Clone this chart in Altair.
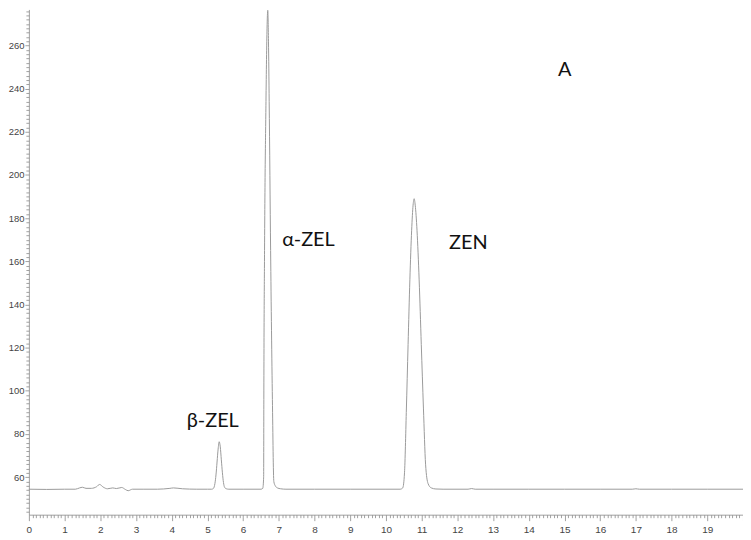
import altair as alt
import pandas as pd

# Chromatogram trace (retention time in min, detector signal)
time_min = [
    0.0, 0.5, 1.0, 1.3, 1.42, 1.5, 1.6, 1.75, 1.9, 1.98, 2.08, 2.2, 2.35, 2.45, 2.6, 2.7, 2.78, 2.9,
    3.2, 3.6, 3.95, 4.05, 4.3, 4.7, 5.0,
    5.12, 5.17, 5.21, 5.24, 5.27, 5.30, 5.33, 5.36, 5.39, 5.42, 5.45, 5.48, 5.53, 5.6,
    6.0, 6.50, 6.55, 6.575, 6.58, 6.60, 6.64, 6.67, 6.69, 6.71, 6.73, 6.77, 6.82, 6.86, 6.90, 6.96, 7.05, 7.2,
    8.0, 9.0, 10.0, 10.40, 10.47, 10.52, 10.57, 10.62, 10.67, 10.72, 10.76, 10.79, 10.82, 10.87, 10.93,
    10.99, 11.05, 11.11, 11.18, 11.27, 11.40, 11.6, 12.3, 12.4, 12.5, 13.0, 14.0, 15.0, 16.0, 16.9,
    17.0, 17.1, 18.0, 19.0, 20.0,
]
signal = [
    54.4, 54.3, 54.4, 54.4, 55.0, 55.3, 54.8, 54.8, 55.6, 56.6, 55.4, 54.6, 55.0, 54.7, 55.2, 54.3, 53.7, 54.4,
    54.4, 54.4, 54.8, 55.0, 54.6, 54.4, 54.4,
    54.4, 54.8, 57.0, 61.0, 67.0, 73.0, 76.4, 74.0, 68.0, 62.0, 57.5, 55.3, 54.6, 54.4,
    54.4, 54.4, 54.8, 60.0, 96.0, 165.0, 234.0, 268.0, 276.3, 262.0, 234.0, 165.0, 96.0, 58.0, 56.0, 55.0, 54.6, 54.4,
    54.4, 54.4, 54.4, 54.4, 55.0, 62.0, 90.0, 121.4, 151.4, 174.4, 186.0, 189.0, 186.0, 174.4, 151.4,
    121.4, 92.0, 66.0, 57.0, 55.0, 54.5, 54.4, 54.4, 54.7, 54.4, 54.4, 54.4, 54.4, 54.4, 54.4,
    54.6, 54.4, 54.4, 54.4, 54.4,
]

label_text = ["β-ZEL", "α-ZEL", "ZEN", "A"]
label_time = [5.15, 7.83, 12.31, 15.01]
label_signal = [86.0, 169.8, 168.4, 248.7]

x_ticks = [round(i * 0.1, 1) for i in range(0, 201)]
y_ticks = list(range(44, 277, 2))

trace = pd.DataFrame({"time": time_min, "signal": signal})
labels = pd.DataFrame({"text": label_text, "time": label_time, "signal": label_signal})

x_scale = alt.Scale(domain=[0, 20], nice=False, zero=False)
y_scale = alt.Scale(domain=[42.6, 276.7], nice=False, zero=False)

x_axis = alt.Axis(
    values=x_ticks,
    title=None,
    grid=False,
    labelExpr="abs(datum.value - round(datum.value)) < 0.01 && datum.value < 19.5 ? format(datum.value, 'd') : ''",
    tickSize={"condition": {"test": "abs(datum.value - round(datum.value)) < 0.01", "value": 6}, "value": 3},
    tickColor="#8a8a8a",
    tickWidth=0.8,
    domainColor="#8a8a8a",
    domainWidth=0.8,
    labelFont="Liberation Sans",
    labelFontSize=10,
    labelColor="#444444",
    labelPadding=4,
    labelOverlap=False,
    labelFlush=False,
)
y_axis = alt.Axis(
    values=y_ticks,
    title=None,
    grid=False,
    labelExpr="datum.value % 20 === 0 ? format(datum.value, 'd') : ''",
    tickSize={"condition": {"test": "datum.value % 20 === 0", "value": 4}, "value": 3},
    tickColor="#8a8a8a",
    tickWidth=0.8,
    domainColor="#8a8a8a",
    domainWidth=0.8,
    labelFont="Liberation Sans",
    labelFontSize=9.5,
    labelColor="#444444",
    labelPadding=1,
    labelOverlap=False,
    labelFlush=False,
)

line = alt.Chart(trace).mark_line(
    color="#9a9a9a", strokeWidth=1, interpolate="monotone"
).encode(
    x=alt.X("time:Q", scale=x_scale, axis=x_axis),
    y=alt.Y("signal:Q", scale=y_scale, axis=y_axis),
)

text = alt.Chart(labels).mark_text(
    font="Lato", fontSize=20, color="#111111", align="center", baseline="middle"
).encode(
    x=alt.X("time:Q", scale=x_scale, axis=x_axis),
    y=alt.Y("signal:Q", scale=y_scale, axis=y_axis),
    text="text:N",
)

chart = alt.layer(line, text).properties(
    width=718,
    height=508,
    padding={"left": 21, "top": 0, "right": 0, "bottom": 19},
    autosize=alt.AutoSizeParams(type="none"),
    background="white",
).configure_view(stroke=None)

chart.save("out.html", embed_options={"renderer": "svg", "actions": False})
